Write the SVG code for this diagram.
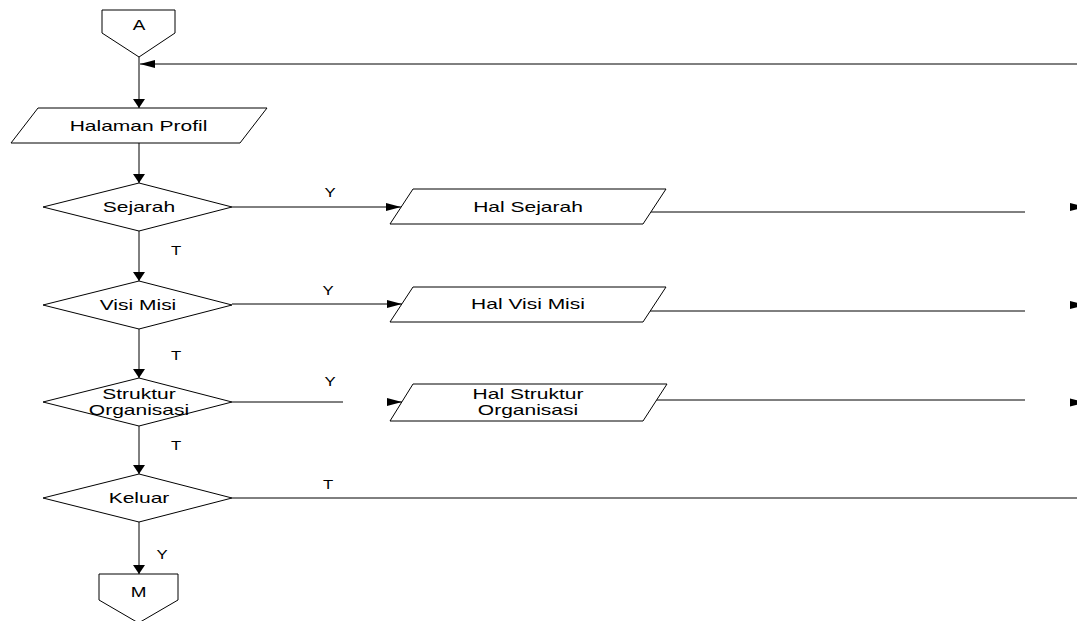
<svg xmlns="http://www.w3.org/2000/svg" width="1077" height="621" viewBox="0 0 1077 621">
<style>
.s{fill:#fff;stroke:#000;stroke-width:1}
.c{fill:none;stroke:#000;stroke-width:1}
.t{font-family:"Liberation Sans",Arial,sans-serif;font-size:14px;fill:#000;text-anchor:middle}
.l{font-family:"Liberation Sans",Arial,sans-serif;font-size:12px;fill:#000;text-anchor:middle}
</style>
<defs>
<marker id="ah" markerUnits="userSpaceOnUse" markerWidth="15" markerHeight="8" refX="15" refY="4" orient="auto" overflow="visible">
<path d="M0,0 L15,4 L0,8 z" fill="#000"/>
</marker>
<marker id="av" markerUnits="userSpaceOnUse" markerWidth="9" markerHeight="12" refX="9" refY="6" orient="auto" overflow="visible">
<path d="M0,0 L9,6 L0,12 z" fill="#000"/>
</marker>
</defs>
<rect width="1077" height="621" fill="#fff"/>
<g id="connectors">
<path class="c" d="M139,57 L139,108" marker-end="url(#av)"/>
<path class="c" d="M1077,64 L140,64" marker-end="url(#ah)"/>
<path class="c" d="M139,143 L139,183" marker-end="url(#av)"/>
<path class="c" d="M139,231 L139,281" marker-end="url(#av)"/>
<path class="c" d="M139,329 L139,378" marker-end="url(#av)"/>
<path class="c" d="M139,426 L139,474" marker-end="url(#av)"/>
<path class="c" d="M139,522 L139,574" marker-end="url(#av)"/>
<path class="c" d="M232,207 L401,207" marker-end="url(#ah)"/>
<path class="c" d="M232,304 L402,304" marker-end="url(#ah)"/>
<path class="c" d="M232,402 L343,402"/>
<path class="c" d="M388,402 L402,402" marker-end="url(#ah)"/>
<path class="c" d="M232,498 L1077,498"/>
<path class="c" d="M651,212 L1025,212"/>
<path class="c" d="M650,311 L1025,311"/>
<path class="c" d="M655,400 L1025,400"/>
<path class="c" d="M1084,207 L1085,207" marker-end="url(#ah)"/>
<path class="c" d="M1084,305 L1085,305" marker-end="url(#ah)"/>
<path class="c" d="M1084,402.5 L1085,402.5" marker-end="url(#ah)"/>
<text class="l" transform="translate(330,197) scale(1.4,1)">Y</text>
<text class="l" transform="translate(328,295) scale(1.4,1)">Y</text>
<text class="l" transform="translate(330,386) scale(1.4,1)">Y</text>
<text class="l" transform="translate(328,489) scale(1.4,1)">T</text>
<text class="l" transform="translate(176,255) scale(1.4,1)">T</text>
<text class="l" transform="translate(176,360) scale(1.4,1)">T</text>
<text class="l" transform="translate(176,450) scale(1.4,1)">T</text>
<text class="l" transform="translate(162,559) scale(1.4,1)">Y</text>
</g>
<g id="nodeA">
<polygon class="s" points="102,10 175,10 175,33 139,57 102,33"/>
<text class="t" transform="translate(139,30) scale(1.35,1)">A</text>
</g>
<g id="halamanProfil">
<polygon class="s" points="38,108 267,108 240,143 11,143"/>
<text class="t" transform="translate(138.5,130.5) scale(1.5,1)">Halaman Profil</text>
</g>
<g id="sejarah">
<polygon class="s" points="139,183 232,207 139,231 43,207"/>
<text class="t" transform="translate(139,212) scale(1.5,1)">Sejarah</text>
</g>
<g id="visiMisi">
<polygon class="s" points="139,281 232,305 139,329 43,305"/>
<text class="t" transform="translate(138,309.5) scale(1.5,1)">Visi Misi</text>
</g>
<g id="struktur">
<polygon class="s" points="139,378 232,402 139,426 43,402"/>
<text class="t" transform="translate(139,398.5) scale(1.5,1)">Struktur</text>
<text class="t" transform="translate(139,414.5) scale(1.5,1)">Organisasi</text>
</g>
<g id="keluar">
<polygon class="s" points="139,474 232,498 139,522 43,498"/>
<text class="t" transform="translate(139,503) scale(1.5,1)">Keluar</text>
</g>
<g id="halSejarah">
<polygon class="s" points="413,189 666,189 643,224 390,224"/>
<text class="t" transform="translate(528,211.5) scale(1.5,1)">Hal Sejarah</text>
</g>
<g id="halVisiMisi">
<polygon class="s" points="413,287 666,287 643,322 390,322"/>
<text class="t" transform="translate(528,308.5) scale(1.5,1)">Hal Visi Misi</text>
</g>
<g id="halStruktur">
<polygon class="s" points="413,384 667,384 643,421 390,421"/>
<text class="t" transform="translate(528,399) scale(1.5,1)">Hal Struktur</text>
<text class="t" transform="translate(528,415) scale(1.5,1)">Organisasi</text>
</g>
<g id="nodeM">
<polygon class="s" points="99,574 178,574 178,600 138.5,623 99,600"/>
<text class="t" transform="translate(138.5,597) scale(1.35,1)">M</text>
</g>
</svg>
